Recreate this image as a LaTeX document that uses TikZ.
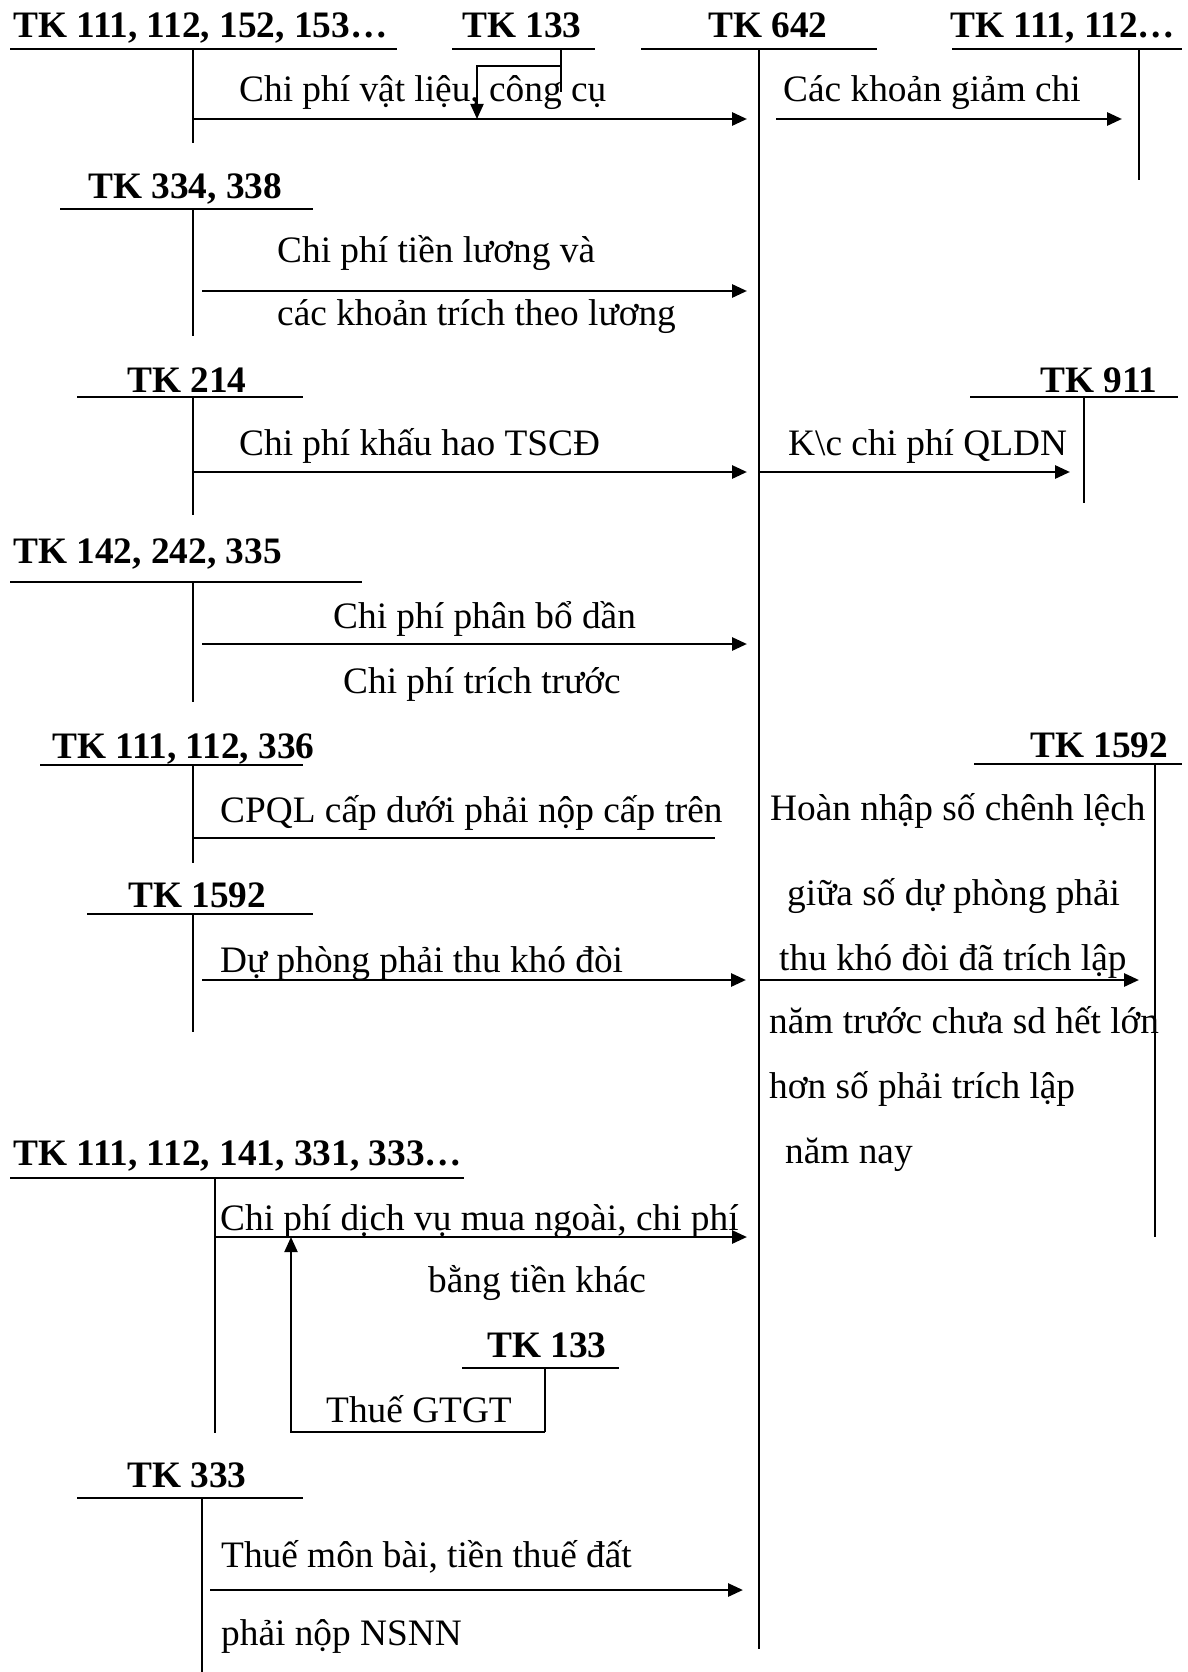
\documentclass[tikz,border=0pt]{standalone}
\usepackage{fontspec}
\setmainfont{Liberation Serif}
\usetikzlibrary{arrows.meta}
\begin{document}
\begin{tikzpicture}[x=1pt,y=-1pt,
  txt/.style={anchor=base west,inner sep=0pt,font=\fontsize{37.33pt}{44pt}\selectfont},
  hdr/.style={anchor=base west,inner sep=0pt,font=\fontsize{37.33pt}{44pt}\selectfont\bfseries},
  acc/.style={line width=1.8pt},
  flow/.style={line width=2.8pt,-{Triangle[length=15pt,width=13pt]}},
  thinflow/.style={line width=2.0pt,-{Triangle[length=15pt,width=13pt]}},
  plainflow/.style={line width=2.2pt}]
\useasboundingbox[fill=white] (0,0) rectangle (1187,1672);

% ---------- headers ----------
\node[hdr] (h1) at (13,38) {TK 111, 112, 152, 153…};
\node[hdr] (h2) at (462,38) {TK 133};
\node[hdr] (h3) at (708,38) {TK 642};
\node[hdr] (h4) at (950,38) {TK 111, 112…};
\node[hdr] (h5) at (88,199) {TK 334, 338};
\node[hdr] (h6) at (127,392) {TK 214};
\node[hdr] (h7) at (1040,392) {TK 911};
\node[hdr] (h8) at (13,563) {TK 142, 242, 335};
\node[hdr] (h9) at (52,758) {TK 111, 112, 336};
\node[hdr] (h10) at (1030,757) {TK 1592};
\node[hdr] (h11) at (128,907) {TK 1592};
\node[hdr] (h12) at (13,1165) {TK 111, 112, 141, 331, 333…};
\node[hdr] (h13) at (487,1357) {TK 133};
\node[hdr] (h14) at (127,1487) {TK 333};

% ---------- labels ----------
\node[txt] (t1) at (239,102) {Chi phí vật liệu, công cụ};
\node[txt] (t2) at (783,102) {Các khoản giảm chi};
\node[txt] (t3) at (277,262) {Chi phí tiền lương và};
\node[txt] (t4) at (277,325) {các khoản trích theo lương};
\node[txt] (t5) at (239,455) {Chi phí khấu hao TSCĐ};
\node[txt] (t6) at (788,455) {K\textbackslash c chi phí QLDN};
\node[txt] (t7) at (333,628) {Chi phí phân bổ dần};
\node[txt] (t8) at (343,693) {Chi phí trích trước};
\node[txt] (t9) at (220,822) {CPQL cấp dưới phải nộp cấp trên};
\node[txt] (t10) at (770,820) {Hoàn nhập số chênh lệch};
\node[txt] (t11) at (787,905) {giữa số dự phòng phải};
\node[txt] (t12) at (220,972) {Dự phòng phải thu khó đòi};
\node[txt] (t13) at (779,970) {thu khó đòi đã trích lập};
\node[txt] (t14) at (769,1033) {năm trước chưa sd hết lớn};
\node[txt] (t15) at (769,1098) {hơn số phải trích lập};
\node[txt] (t16) at (785,1163) {năm nay};
\node[txt] (t17) at (220,1230) {Chi phí dịch vụ mua ngoài, chi phí};
\node[txt] (t18) at (428,1292) {bằng tiền khác};
\node[txt] (t19) at (326,1422) {Thuế GTGT};
\node[txt] (t20) at (221,1567) {Thuế môn bài, tiền thuế đất};
\node[txt] (t21) at (221,1645) {phải nộp NSNN};

% ---------- account underlines ----------
\draw[acc] (10,49) coordinate (u1a) -- (397,49) coordinate (u1b);
\draw[acc] (452,49) coordinate (u2a) -- (595,49) coordinate (u2b);
\draw[acc] (641,49) coordinate (u3a) -- (877,49) coordinate (u3b);
\draw[acc] (952,49) coordinate (u4a) -- (1182,49) coordinate (u4b);
\draw[acc] (60,209) coordinate (u5a) -- (313,209) coordinate (u5b);
\draw[acc] (77,397) coordinate (u6a) -- (303,397) coordinate (u6b);
\draw[acc] (970,397) coordinate (u7a) -- (1178,397) coordinate (u7b);
\draw[acc] (10,582) coordinate (u8a) -- (362,582) coordinate (u8b);
\draw[acc] (40,765) coordinate (u9a) -- (303,765) coordinate (u9b);
\draw[acc] (974,764) coordinate (u10a) -- (1182,764) coordinate (u10b);
\draw[acc] (87,914) coordinate (u11a) -- (313,914) coordinate (u11b);
\draw[acc] (10,1178) coordinate (u12a) -- (464,1178) coordinate (u12b);
\draw[acc] (462,1368) coordinate (u13a) -- (619,1368) coordinate (u13b);
\draw[acc] (77,1498) coordinate (u14a) -- (303,1498) coordinate (u14b);

% ---------- account verticals ----------
\draw[acc] (193,49) coordinate (v1a) -- (193,143) coordinate (v1b);
\draw[acc] (561,49) coordinate (v2a) -- (561,92) coordinate (v2b);
\draw[acc] (759,49) coordinate (v3a) -- (759,1649) coordinate (v3b);
\draw[acc] (1139,49) coordinate (v4a) -- (1139,180) coordinate (v4b);
\draw[acc] (193,209) coordinate (v5a) -- (193,336) coordinate (v5b);
\draw[acc] (193,397) coordinate (v6a) -- (193,515) coordinate (v6b);
\draw[acc] (1084,397) coordinate (v7a) -- (1084,503) coordinate (v7b);
\draw[acc] (193,582) coordinate (v8a) -- (193,702) coordinate (v8b);
\draw[acc] (193,765) coordinate (v9a) -- (193,863) coordinate (v9b);
\draw[acc] (1155,764) coordinate (v10a) -- (1155,1237) coordinate (v10b);
\draw[acc] (193,914) coordinate (v11a) -- (193,1032) coordinate (v11b);
\draw[acc] (215,1178) coordinate (v12a) -- (215,1433) coordinate (v12b);
\draw[acc] (545,1368) coordinate (v13a) -- (545,1432) coordinate (v13b);
\draw[acc] (202,1498) coordinate (v14a) -- (202,1672) coordinate (v14b);

% ---------- flows ----------
\draw[thinflow] (v2a |- 0,66) coordinate (k1) -- (477,66) coordinate (k2) -- (477,119) coordinate (k3);
\draw[flow] (193,119) coordinate (f1a) -- (747,119) coordinate (f1b);
\draw[flow] (776,119) coordinate (f2a) -- (1122,119) coordinate (f2b);
\draw[flow] (202,291) coordinate (f3a) -- (747,291) coordinate (f3b);
\draw[flow] (193,472) coordinate (f4a) -- (747,472) coordinate (f4b);
\draw[flow] (759,472) coordinate (f5a) -- (1070,472) coordinate (f5b);
\draw[flow] (202,644) coordinate (f6a) -- (747,644) coordinate (f6b);
\draw[plainflow] (193,838) coordinate (f7a) -- (715,838) coordinate (f7b);
\draw[flow] (202,980) coordinate (f8a) -- (746,980) coordinate (f8b);
\draw[flow] (759,980) coordinate (f9a) -- (1139,980) coordinate (f9b);
\draw[flow] (215,1237) coordinate (f10a) -- (747,1237) coordinate (f10b);
\draw[thinflow] (v13b) -- (291,1432) coordinate (g1) -- (291,1237) coordinate (g2);
\draw[flow] (210,1590) coordinate (f11a) -- (743,1590) coordinate (f11b);
\end{tikzpicture}
\end{document}
